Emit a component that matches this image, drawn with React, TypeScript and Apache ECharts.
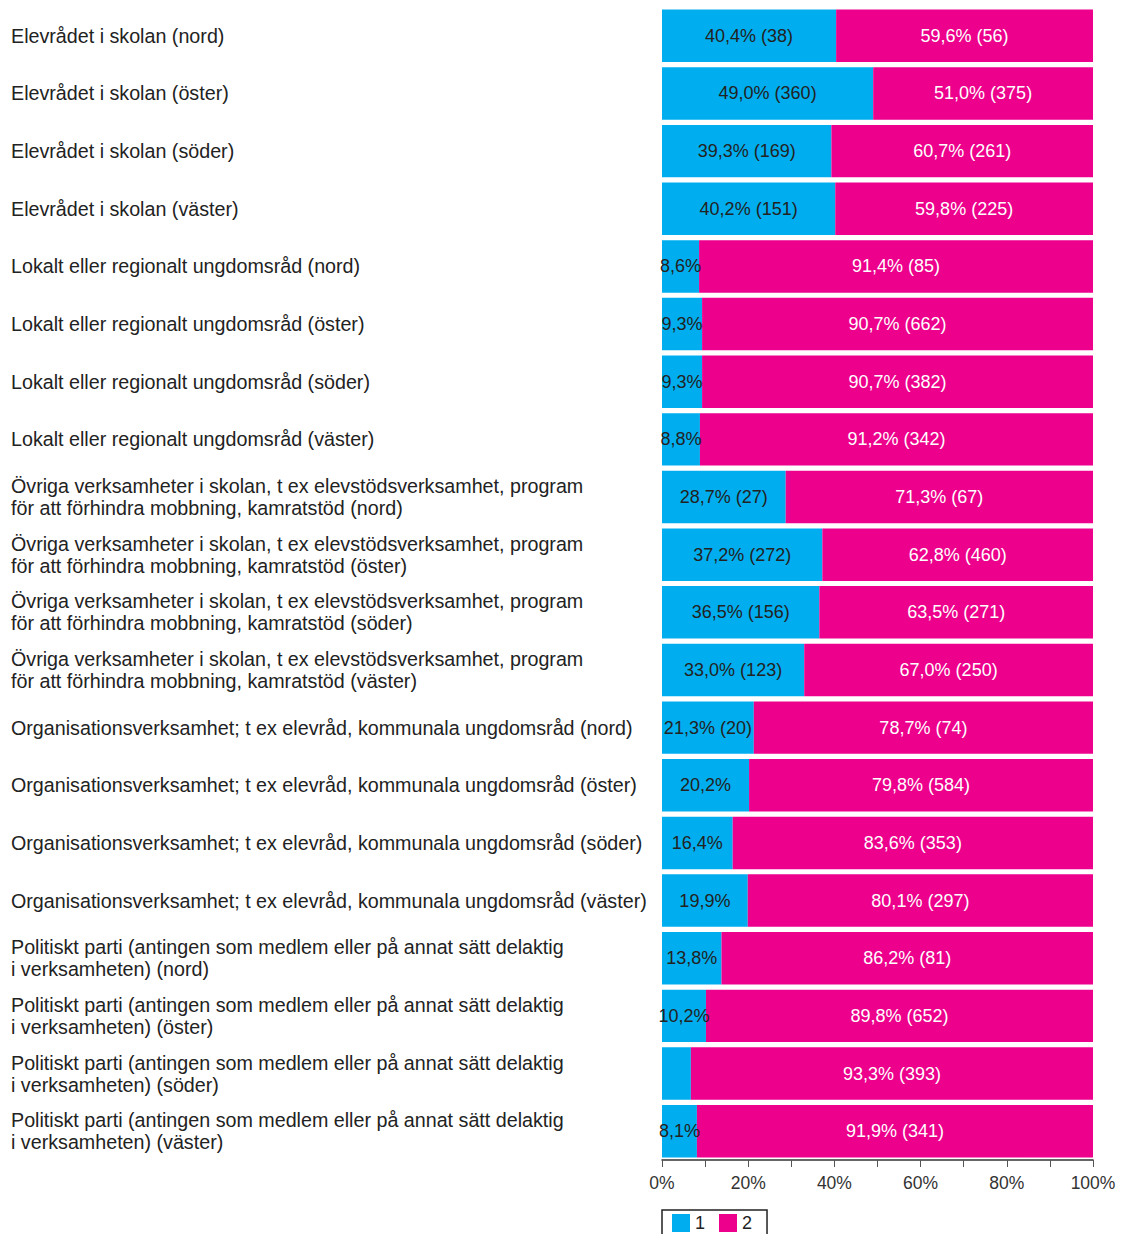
import React, { useEffect, useRef } from "react";
import * as echarts from "echarts";

const topics = [
  "Elevrådet i skolan",
  "Lokalt eller regionalt ungdomsråd",
  "Övriga verksamheter i skolan, t ex elevstödsverksamhet, program\nför att förhindra mobbning, kamratstöd",
  "Organisationsverksamhet; t ex elevråd, kommunala ungdomsråd",
  "Politiskt parti (antingen som medlem eller på annat sätt delaktig\ni verksamheten)",
];
const regions = ["nord", "öster", "söder", "väster"];

const categories: string[] = [];
topics.forEach((t) => regions.forEach((r) => categories.push(`${t} (${r})`)));

const bluePct = [40.4, 49.0, 39.3, 40.2, 8.6, 9.3, 9.3, 8.8, 28.7, 37.2, 36.5, 33.0, 21.3, 20.2, 16.4, 19.9, 13.8, 10.2, 6.7, 8.1];
const pinkPct = [59.6, 51.0, 60.7, 59.8, 91.4, 90.7, 90.7, 91.2, 71.3, 62.8, 63.5, 67.0, 78.7, 79.8, 83.6, 80.1, 86.2, 89.8, 93.3, 91.9];
// null = count not displayed in the picture
const blueCounts: (number | null)[] = [38, 360, 169, 151, null, null, null, null, 27, 272, 156, 123, 20, null, null, null, null, null, null, null];
const pinkCounts: (number | null)[] = [56, 375, 261, 225, 85, 662, 382, 342, 67, 460, 271, 250, 74, 584, 353, 297, 81, 652, 393, 341];

const xTicks = [0, 20, 40, 60, 80, 100];

const fmt = (v: number) => v.toFixed(1).replace(".", ",") + "%";
const labelText = (v: number, c: number | null) => {
  if (v < 7) return "";
  return c == null ? fmt(v) : `${fmt(v)} (${c})`;
};

const FONT = "Liberation Sans, Arial, sans-serif";

export default function App() {
  const ref = useRef<HTMLDivElement>(null);
  useEffect(() => {
    if (!ref.current) return;
    const chart = echarts.init(ref.current, null, { renderer: "svg" });
    chart.setOption({
      animation: false,
      textStyle: { fontFamily: FONT },
      grid: { left: 662, right: 29, top: 7, bottom: 74, containLabel: false },
      legend: {
        data: ["1", "2"],
        left: 662,
        top: 1210,
        orient: "horizontal",
        icon: "rect",
        itemWidth: 18,
        itemHeight: 18,
        itemGap: 14,
        padding: [4, 15, 4, 10],
        borderColor: "#222",
        borderWidth: 1.5,
        textStyle: { fontSize: 18, color: "#222", fontFamily: FONT },
      },
      xAxis: {
        type: "value",
        min: xTicks[0],
        max: xTicks[xTicks.length - 1],
        interval: xTicks[1] - xTicks[0],
        axisLabel: { formatter: "{value}%", fontSize: 17.5, color: "#333", margin: 14, fontFamily: FONT },
        axisLine: { show: true, lineStyle: { color: "#333", width: 1.5 } },
        axisTick: { show: true, length: 7, lineStyle: { color: "#555" } },
        minorTick: { show: true, splitNumber: 2, length: 7, lineStyle: { color: "#555" } },
        splitLine: { show: false },
        minorSplitLine: { show: false },
      },
      yAxis: {
        type: "category",
        inverse: true,
        data: categories,
        axisLine: { show: false },
        axisTick: { show: false },
        axisLabel: {
          align: "left",
          margin: 651,
          fontSize: 19.7,
          lineHeight: 22,
          color: "#222",
          fontFamily: FONT,
        },
      },
      series: [
        {
          name: "1",
          type: "bar",
          stack: "s",
          barCategoryGap: "9%",
          itemStyle: { color: "#00AEEF" },
          label: {
            show: true,
            position: "inside",
            color: "#222",
            fontSize: 18,
            fontFamily: FONT,
            formatter: (p: any) => labelText(bluePct[p.dataIndex], blueCounts[p.dataIndex]),
          },
          data: bluePct,
        },
        {
          name: "2",
          type: "bar",
          stack: "s",
          barCategoryGap: "9%",
          itemStyle: { color: "#EC008C" },
          label: {
            show: true,
            position: "inside",
            color: "#fff",
            fontSize: 18,
            fontFamily: FONT,
            formatter: (p: any) => labelText(pinkPct[p.dataIndex], pinkCounts[p.dataIndex]),
          },
          data: pinkPct,
        },
      ],
    });
    return () => chart.dispose();
  }, []);
  return (
    <div
      ref={ref}
      style={{ position: "absolute", left: 0, top: 0, width: 1122, height: 1234, background: "#fff" }}
    />
  );
}
